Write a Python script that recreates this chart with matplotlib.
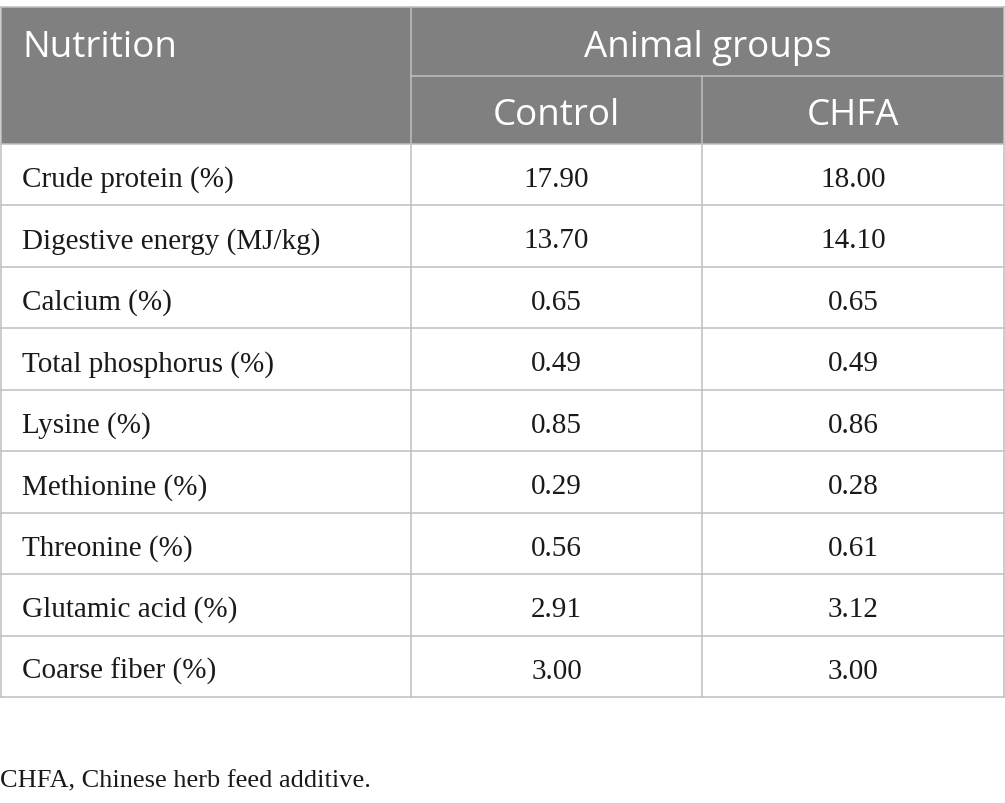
import matplotlib.pyplot as plt
from matplotlib.patches import Rectangle

# table contents
nutrients = ["Crude protein (%)", "Digestive energy (MJ/kg)", "Calcium (%)",
             "Total phosphorus (%)", "Lysine (%)", "Methionine (%)",
             "Threonine (%)", "Glutamic acid (%)", "Coarse fiber (%)"]
control = ["17.90", "13.70", "0.65", "0.49", "0.85", "0.29", "0.56", "2.91", "3.00"]
chfa = ["18.00", "14.10", "0.65", "0.49", "0.86", "0.28", "0.61", "3.12", "3.00"]
group_names = ["Control", "CHFA"]
footnote = "CHFA, Chinese herb feed additive."

# layout in pixels
W, H = 1005, 804
x0, x1, x2, x3 = 1, 411, 702, 1004
top, mid, head_bot = 8, 77, 145
row_h = (698 - head_bot) / len(nutrients)
header_bg = "#808080"
line_c = "#bfbfbf"
lw = 1.1

fig = plt.figure(figsize=(W / 100, H / 100), dpi=100)
ax = fig.add_axes([0, 0, 1, 1])
ax.set_xlim(0, W)
ax.set_ylim(H, 0)
ax.axis("off")

sans = "Open Sans"
serif = "Liberation Serif"
hsize = 26.5
bsize = 21
txt = "#1a1a1a"

# header background
ax.add_patch(Rectangle((x0, top), x3 - x0, head_bot - top, facecolor=header_bg, edgecolor="none"))

ax.text(22, 57, "Nutrition", fontsize=hsize, family=sans, color="white", va="baseline", ha="left")
ax.text((x1 + x3) / 2, 57, "Animal groups", fontsize=hsize, family=sans, color="white", va="baseline", ha="center")
ax.text((x1 + x2) / 2, 125, group_names[0], fontsize=hsize, family=sans, color="white", va="baseline", ha="center")
ax.text((x2 + x3) / 2, 125, group_names[1], fontsize=hsize, family=sans, color="white", va="baseline", ha="center")

# body rows
for i, name in enumerate(nutrients):
    yb = head_bot + i * row_h + 42
    ax.text(22, yb, name, fontsize=bsize, family=serif, color=txt, va="baseline", ha="left")
    ax.text((x1 + x2) / 2, yb, control[i], fontsize=bsize, family=serif, color=txt, va="baseline", ha="center")
    ax.text((x2 + x3) / 2, yb, chfa[i], fontsize=bsize, family=serif, color=txt, va="baseline", ha="center")

bottom = head_bot + len(nutrients) * row_h

# grid lines
for i in range(len(nutrients) + 1):
    y = head_bot + i * row_h
    ax.plot([x0, x3], [y, y], color=line_c, lw=lw)
ax.plot([x0, x3], [top, top], color=line_c, lw=lw)
ax.plot([x1, x3], [mid, mid], color=line_c, lw=lw)
ax.plot([x0, x0], [top, bottom], color=line_c, lw=lw)
ax.plot([x3, x3], [top, bottom], color=line_c, lw=lw)
ax.plot([x1, x1], [top, bottom], color=line_c, lw=lw)
ax.plot([x2, x2], [mid, bottom], color=line_c, lw=lw)

ax.text(0, 787, footnote, fontsize=19, family=serif, color=txt, va="baseline", ha="left")

fig.savefig("out.png", dpi=100, facecolor="white")
